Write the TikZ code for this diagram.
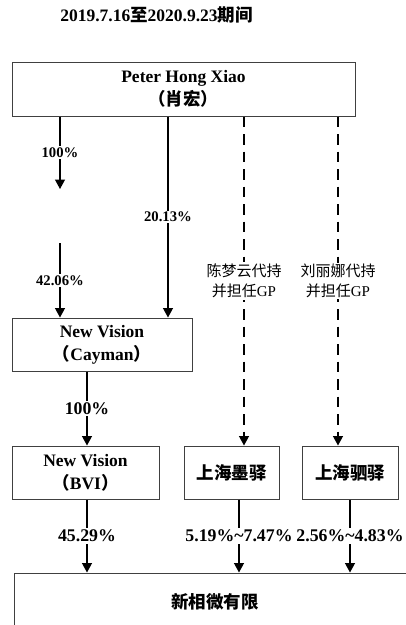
\documentclass[tikz,border=0pt]{standalone}
\usepackage{fontspec}
\setmainfont{Liberation Serif}
\newfontfamily\cjk{Noto Sans CJK SC}
\usetikzlibrary{arrows.meta}

\tikzset{
  box/.style={draw=black!75, line width=1pt, inner sep=0pt, align=center,
    font=\fontsize{17.5}{23}\selectfont\bfseries},
  own/.style={line width=1.2pt, -{Triangle[width=10pt,length=9.5pt]}},
  proxy/.style={own, dash pattern=on 10.5pt off 7pt},
  pct/.style={fill=white, inner sep=1.5pt, font=\fontsize{17.8}{20}\selectfont\bfseries},
  pctsmall/.style={pct, font=\fontsize{14.7}{18}\selectfont\bfseries},
  holder/.style={fill=white, inner sep=1.5pt, align=center,
    font=\fontsize{15}{20}\selectfont},
}

\begin{document}
\begin{tikzpicture}[x=1pt,y=-1pt]
  \useasboundingbox (0,0) rectangle (406,625);

  \coordinate (c0) at (60,0);  % left column, via the gap
  \coordinate (c1) at (168,0); % direct stake in cayman
  \coordinate (c2) at (244,0); % first proxy line
  \coordinate (c3) at (338,0); % second proxy line
  \coordinate (d0) at (87,0);  % bvi column
  \coordinate (d1) at (239,0); % moyi column
  \coordinate (d2) at (350,0); % siyi column

  \coordinate (gap0) at (60,189); % arrow stops short
  \coordinate (gap1) at (60,243); % and starts again

  % title
  \node[font=\fontsize{17.5}{20}\selectfont\bfseries] (title) at (156.5,15)
    {2019.7.16{\cjk 至}2020.9.23{\cjk 期间}};

  % boxes
  \node[box, minimum width=343pt, minimum height=54pt] (peter) at (183.5,89)
    {Peter Hong Xiao\\{\cjk （肖宏）}};
  \node[box, minimum width=180pt, minimum height=53pt] (cayman) at (102,344.5)
    {New Vision\\{\cjk （}Cayman{\cjk ）}};
  \node[box, minimum width=147pt, minimum height=53pt] (bvi) at (85.5,472.5)
    {New Vision\\{\cjk （}BVI{\cjk ）}};
  \node[box, minimum width=95pt, minimum height=53pt] (moyi) at (231.5,472.5)
    {{\cjk 上海墨驿}};
  \node[box, minimum width=96pt, minimum height=53pt] (siyi) at (350,472.5)
    {{\cjk 上海驷驿}};
  \node[box, minimum width=402pt, minimum height=58pt] (xxw) at (215,602)
    {{\cjk 新相微有限}};

  % peter to cayman
  \draw[own] (peter.south -| c0) -- node[pctsmall] {100\%} (gap0);
  \draw[own] (gap1) -- node[pctsmall] {42.06\%} (cayman.north -| c0);
  \draw[own] (peter.south -| c1) -- node[pctsmall] {20.13\%} (cayman.north -| c1);
  % held for him
  \draw[proxy] (peter.south -| c2) -- node[holder] {{\cjk 陈梦云代持}\\{\cjk 并担任}GP} (moyi.north -| c2);
  \draw[proxy] (peter.south -| c3) -- node[holder] {{\cjk 刘丽娜代持}\\{\cjk 并担任}GP} (siyi.north -| c3);
  % cayman to bvi
  \draw[own] (cayman.south -| d0) -- node[pct] {100\%} (bvi.north -| d0);
  % into the company
  \draw[own] (bvi.south -| d0) -- node[pct] {45.29\%} (xxw.north -| d0);
  \draw[own] (moyi.south -| d1) -- node[pct] {5.19\%\textasciitilde7.47\%} (xxw.north -| d1);
  \draw[own] (siyi.south -| d2) -- node[pct] {2.56\%\textasciitilde4.83\%} (xxw.north -| d2);
\end{tikzpicture}
\end{document}
